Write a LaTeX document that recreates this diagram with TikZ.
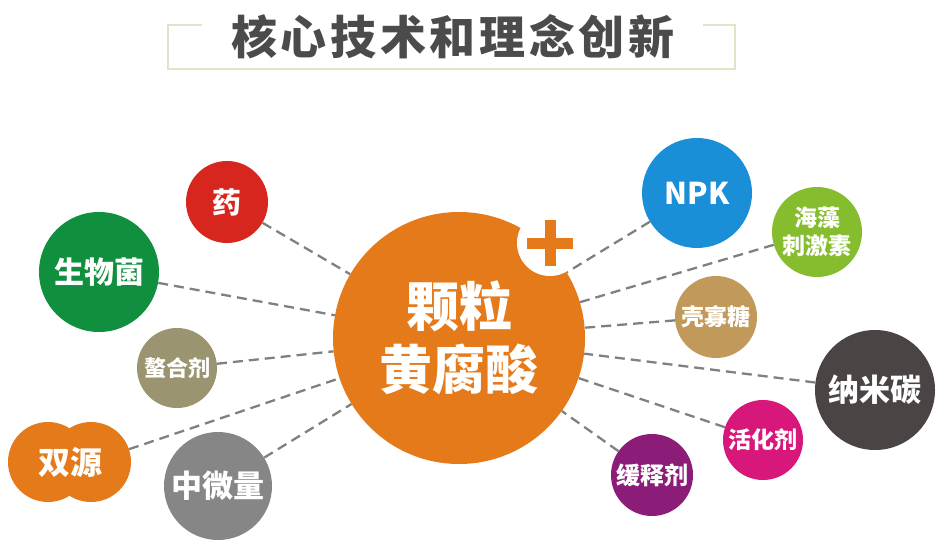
\documentclass[tikz,border=0pt]{standalone}
\usepackage{fontspec}
\setmainfont{Noto Sans CJK SC}
\definecolor{MainOrange}{HTML}{E57A1B}
\definecolor{TitleGray}{HTML}{4B4B4B}
\definecolor{TitleGreen}{HTML}{DDE7C8}
\definecolor{LinkGray}{HTML}{808080}
\definecolor{YaoRed}{HTML}{D6261E}
\definecolor{JunGreen}{HTML}{10903F}
\definecolor{AoheOlive}{HTML}{9A9470}
\definecolor{WeiGray}{HTML}{868686}
\definecolor{NpkBlue}{HTML}{1A8FD8}
\definecolor{HaizaoGreen}{HTML}{86BD2F}
\definecolor{KetangTan}{HTML}{C19A5B}
\definecolor{TanDark}{HTML}{4A4544}
\definecolor{HuohuaPink}{HTML}{D8177A}
\definecolor{HuanshiPurple}{HTML}{8B1D78}

\begin{document}
\begin{tikzpicture}[x=1pt, y=-1pt,
        ball/.style={circle, inner sep=0pt, text=white, align=center},
        link/.style={draw=LinkGray, line width=2.3pt, dash pattern=on 10pt off 6pt}]
        \useasboundingbox (0,0) rectangle (941,548);

        \draw[TitleGreen, line width=1.5pt] (202,25) -- (168,25) -- (168,69) -- (735,69) -- (735,25) -- (703,25);
        \node[text=TitleGray, font=\bfseries\fontsize{46}{50}\selectfont\addfontfeatures{LetterSpace=8}] (title) at (453,37) {核心技术和理念创新};

        \node[ball, fill=MainOrange, minimum size=252pt, font=\bfseries\fontsize{53}{63}\selectfont] (main) at (459,338) {颗粒\\黄腐酸};

        \node[ball, fill=YaoRed, minimum size=82pt, font=\bfseries\fontsize{29}{32}\selectfont] (yao) at (227,202) {药};
        \node[ball, fill=JunGreen, minimum size=120pt, font=\bfseries\fontsize{30}{34}\selectfont] (jun) at (99,272) {生物菌};
        \node[ball, fill=AoheOlive, minimum size=80pt, font=\bfseries\fontsize{22}{26}\selectfont] (aohe) at (177,368) {螯合剂};
        \node[ball, fill=MainOrange, minimum size=80pt] (sy1) at (48,462) {};
        \node[ball, fill=MainOrange, minimum size=80pt] (sy2) at (91,462) {};
        \node[text=white, inner sep=0pt, font=\bfseries\fontsize{32}{36}\selectfont] (sy) at (70,462) {双源};
        \node[ball, fill=WeiGray, minimum size=108pt, font=\bfseries\fontsize{31}{34}\selectfont] (wei) at (218,486) {中微量};

        \node[ball, fill=NpkBlue, minimum size=110pt, font=\bfseries\fontsize{30}{34}\selectfont] (npk) at (697,193) {NPK};
        \node[ball, fill=HaizaoGreen, minimum size=90pt, font=\bfseries\fontsize{23}{28}\selectfont] (haizao) at (817,232) {海藻\\刺激素};
        \node[ball, fill=KetangTan, minimum size=82pt, font=\bfseries\fontsize{23}{26}\selectfont] (ketang) at (716,317) {壳寡糖};
        \node[ball, fill=TanDark, minimum size=120pt, font=\bfseries\fontsize{31}{34}\selectfont] (tan) at (875,390) {纳米碳};
        \node[ball, fill=HuohuaPink, minimum size=80pt, font=\bfseries\fontsize{23}{26}\selectfont] (huohua) at (763,440) {活化剂};
        \node[ball, fill=HuanshiPurple, minimum size=82pt, font=\bfseries\fontsize{24}{26}\selectfont] (huanshi) at (652,475) {缓释剂};

        \foreach \n in {yao,jun,aohe,sy2,wei,npk,haizao,ketang,tan,huohua,huanshi}
            \draw[link] (\n) -- (main);

        \node[circle, fill=white, inner sep=0pt, minimum size=66pt] (notch) at (550,243) {};
        \draw[MainOrange, line width=11pt] ([xshift=-23pt]notch.center) -- ([xshift=23pt]notch.center);
        \draw[MainOrange, line width=11pt] ([yshift=-23pt]notch.center) -- ([yshift=23pt]notch.center);
\end{tikzpicture}
\end{document}
